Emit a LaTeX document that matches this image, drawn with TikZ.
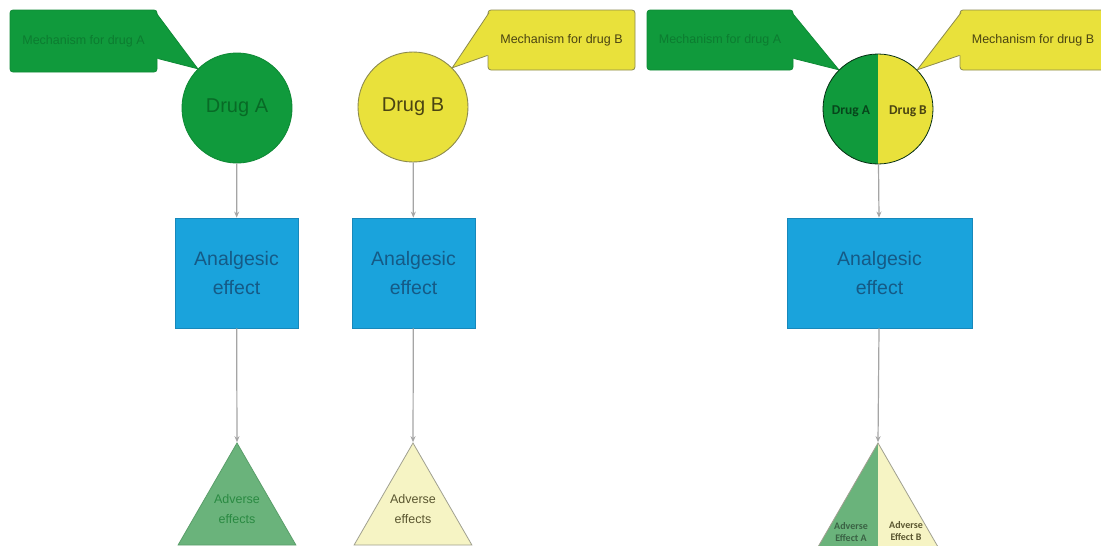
\documentclass[tikz,border=0pt]{standalone}
\usepackage{fontspec}
\setmainfont{Liberation Sans}
\newfontfamily\calib{Carlito}
\usetikzlibrary{shapes.geometric,arrows.meta,calc}
\definecolor{gA}{HTML}{109A3C}
\definecolor{gAline}{HTML}{0E8A35}
\definecolor{gAtext}{HTML}{0C7C30}
\definecolor{gAdrug}{HTML}{086A26}
\definecolor{yB}{HTML}{E9E13B}
\definecolor{yBline}{HTML}{8C8A4E}
\definecolor{yBtext}{HTML}{4A4412}
\definecolor{bx}{HTML}{1AA3DC}
\definecolor{bxline}{HTML}{1788BB}
\definecolor{bxtext}{HTML}{155A86}
\definecolor{tg}{HTML}{6AB37B}
\definecolor{tgline}{HTML}{5A9E6A}
\definecolor{tgtext}{HTML}{2A8A42}
\definecolor{ty}{HTML}{F6F4C4}
\definecolor{tyline}{HTML}{A0A090}
\definecolor{tytext}{HTML}{5A5630}
\definecolor{arr}{HTML}{A5A5A5}
\tikzset{
  calloutbox/.style={rectangle, rounded corners=3pt, inner sep=0pt, font=\fontsize{12.5}{14}\selectfont, line width=0.8pt},
  drugcircle/.style={circle, minimum size=110pt, inner sep=0pt, line width=0.9pt, font=\fontsize{20}{24}\selectfont},
  effectbox/.style={rectangle, fill=bx, draw=bxline, line width=0.8pt, minimum height=110pt, inner sep=0pt, align=center, text=bxtext, font=\fontsize{19.5}{29}\selectfont},
  advtri/.style={regular polygon, regular polygon sides=3, inner sep=0pt, line width=0.8pt},
  advtext/.style={align=center, font=\fontsize{12.5}{20}\selectfont},
  conn/.style={draw=arr, line width=1.2pt, -{Stealth[length=6pt,width=5pt]}},
}
\begin{document}
\begin{tikzpicture}[x=1pt,y=-1pt]
\clip (0,0) rectangle (1101,546);
\fill[white] (0,0) rectangle (1101,546);

% ---------- Drug A column ----------
\node[drugcircle, fill=gA, draw=gAline, text=gAdrug] (drugA) at (237,108) {Drug A};
\node[calloutbox, fill=gA, draw=gAline, text=gAtext, minimum width=147pt, minimum height=62pt] (calA) at (83.5,41) {Mechanism for drug A};
\coordinate (pAt) at ($(calA.north east)+(-1.5,3)$);
\coordinate (pAb) at ($(calA.south east)+(0,-14)$);
\fill[gA] (pAt) -- (drugA.north west) -- (pAb) -- ++(-4,0) -- ($(pAt)+(-4,0)$) -- cycle;
\draw[gAline, line width=0.8pt] (pAt) -- (drugA.north west) -- (pAb);
\node[effectbox, minimum width=123pt] (boxA) at (236.5,273) {Analgesic\\effect};
\node[advtri, minimum size=136pt, fill=tg, draw=tgline,
  label={[advtext, text=tgtext, yshift=2pt]center:Adverse\\effects}] (triA) at (237,511) {};
\draw[conn] (drugA) -- (boxA);
\draw[conn] (boxA) -- (triA.corner 1);

% ---------- Drug B column ----------
\node[drugcircle, fill=yB, draw=yBline, text=yBtext] (drugB) at (413,107) {Drug B};
\node[calloutbox, fill=yB, draw=yBline, text=yBtext, minimum width=147pt, minimum height=60pt] (calB) at (561.5,40) {Mechanism for drug B};
\coordinate (pBt) at ($(calB.north west)+(1.5,3)$);
\coordinate (pBb) at ($(calB.south west)+(0,-15)$);
\fill[yB] (pBt) -- (drugB.north east) -- (pBb) -- ++(4,0) -- ($(pBt)+(4,0)$) -- cycle;
\draw[yBline, line width=0.8pt] (pBt) -- (drugB.north east) -- (pBb);
\node[effectbox, minimum width=123pt] (boxB) at (413.5,273) {Analgesic\\effect};
\node[advtri, minimum size=136pt, fill=ty, draw=tyline,
  label={[advtext, text=tytext, yshift=2pt]center:Adverse\\effects}] (triB) at (413,511) {};
\draw[conn] (drugB) -- (boxB);
\draw[conn] (boxB) -- (triB.corner 1);

% ---------- Combined column ----------
\node[drugcircle, draw=black!70!gA, line width=0.8pt,
  path picture={
    \fill[gA] (path picture bounding box.south west) rectangle (path picture bounding box.north);
    \fill[yB] (path picture bounding box.south) rectangle (path picture bounding box.north east);
  }] (drugC) at (878,109) {};
\node[font=\calib\bfseries\fontsize{13.5}{16}\selectfont, text=black!55!gA, anchor=center] (drugCA) at (851,111) {Drug A};
\node[font=\calib\bfseries\fontsize{13.5}{16}\selectfont, text=yBtext, anchor=center] (drugCB) at (908,111) {Drug B};
\node[calloutbox, fill=gA, draw=gAline, text=gAtext, minimum width=146pt, minimum height=60pt] (calC1) at (720,40) {Mechanism for drug A};
\coordinate (pCt) at ($(calC1.north east)+(-1.5,3)$);
\coordinate (pCb) at ($(calC1.south east)+(0,-12)$);
\fill[gA] (pCt) -- (drugC.north west) -- (pCb) -- ++(-4,0) -- ($(pCt)+(-4,0)$) -- cycle;
\draw[gAline, line width=0.8pt] (pCt) -- (drugC.north west) -- (pCb);
\node[calloutbox, fill=yB, draw=yBline, text=yBtext, minimum width=146pt, minimum height=60pt] (calC2) at (1033,40) {Mechanism for drug B};
\coordinate (pDt) at ($(calC2.north west)+(1.5,3)$);
\coordinate (pDb) at ($(calC2.south west)+(0,-15)$);
\fill[yB] (pDt) -- (drugC.north east) -- (pDb) -- ++(4,0) -- ($(pDt)+(4,0)$) -- cycle;
\draw[yBline, line width=0.8pt] (pDt) -- (drugC.north east) -- (pDb);
\node[effectbox, minimum width=185pt] (boxC) at (879.5,273) {Analgesic\\effect};
\node[advtri, minimum size=200pt, draw=tyline,
  path picture={
    \fill[tg] (path picture bounding box.south west) rectangle (path picture bounding box.north);
    \fill[ty] (path picture bounding box.south) rectangle (path picture bounding box.north east);
  }] (triC) at (878,543) {};
\node[align=center, font=\calib\bfseries\fontsize{10}{11.5}\selectfont, text=black!45!tg] (advCA) at (851,532) {Adverse\\Effect A};
\node[align=center, font=\calib\bfseries\fontsize{10}{11.5}\selectfont, text=tytext] (advCB) at (906,531) {Adverse\\Effect B};
\draw[conn] (drugC) -- (boxC);
\draw[conn] (boxC) -- (triC.corner 1);
\end{tikzpicture}
\end{document}
